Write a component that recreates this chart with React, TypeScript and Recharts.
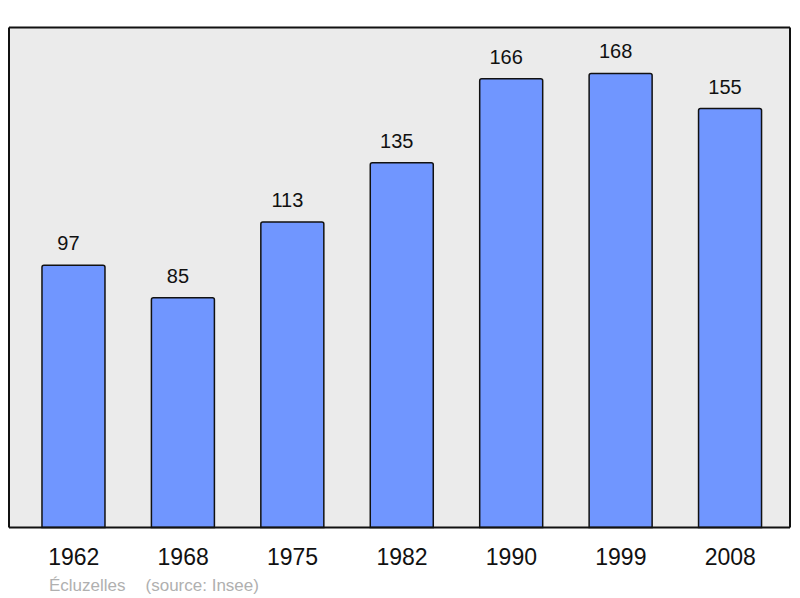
import { BarChart, Bar, XAxis, YAxis, CartesianGrid, LabelList } from 'recharts';

const years = ['1962', '1968', '1975', '1982', '1990', '1999', '2008'];
const population = [97, 85, 113, 135, 166, 168, 155];

const data = years.map((year, i) => ({ year, population: population[i] }));

const FONT = '"Liberation Sans", Arial, sans-serif';
const frame = { stroke: '#111', strokeWidth: 2 };

export default function App() {
  return (
    <div style={{ position: 'relative', width: 784, height: 590, fontFamily: FONT }}>
      <BarChart
        width={784}
        height={590}
        data={data}
        margin={{ top: 18.5, right: 1, left: 0, bottom: 0 }}
        barCategoryGap="21%"
      >
        <CartesianGrid fill="#ebebeb" horizontal={false} vertical={false} />
        <XAxis
          dataKey="year"
          height={70.5}
          padding={{ left: 10, right: 5 }}
          axisLine={frame}
          tickLine={false}
          tickSize={0}
          tickMargin={21}
          tick={{ fontSize: 23, fill: '#111', fontFamily: FONT }}
          interval={0}
        />
        <XAxis
          xAxisId="top"
          dataKey="year"
          orientation="top"
          height={1}
          tick={false}
          tickLine={false}
          axisLine={frame}
        />
        <YAxis
          domain={[0, 185]}
          width={1}
          tick={false}
          tickLine={false}
          axisLine={frame}
        />
        <YAxis
          yAxisId="right"
          orientation="right"
          domain={[0, 185]}
          width={1}
          tick={false}
          tickLine={false}
          axisLine={frame}
        />
        <Bar
          dataKey="population"
          fill="#7096ff"
          stroke="#111"
          strokeWidth={1.5}
          radius={[2, 2, 0, 0]}
          isAnimationActive={false}
        >
          <LabelList
            dataKey="population"
            position="top"
            offset={15}
            dx={-5}
            style={{ fontSize: 20, fill: '#111', fontFamily: FONT }}
          />
        </Bar>
      </BarChart>
      <div
        style={{
          position: 'absolute',
          left: 41,
          top: 568,
          fontSize: 17,
          color: '#b0b0b0',
          whiteSpace: 'pre',
          lineHeight: '20px',
        }}
      >
        <span>Écluzelles</span>
        <span style={{ marginLeft: 20 }}>(source: Insee)</span>
      </div>
    </div>
  );
}
